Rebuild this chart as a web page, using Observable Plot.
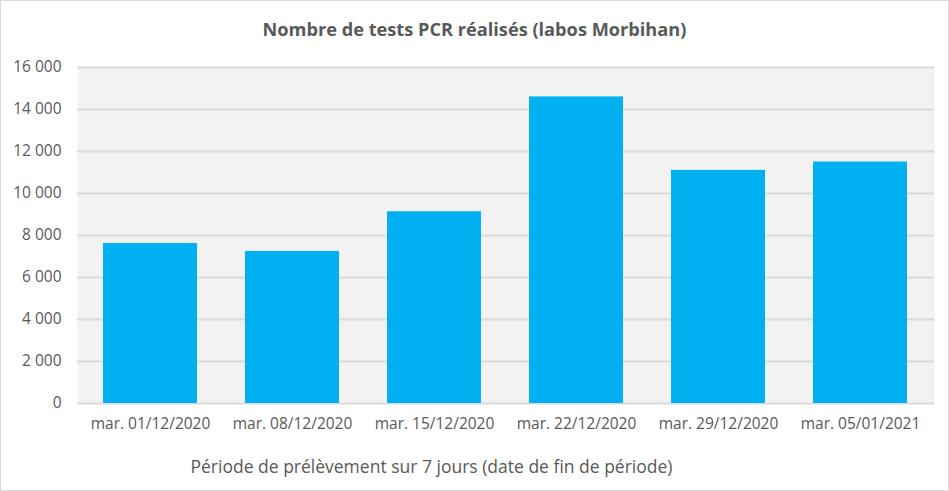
<!DOCTYPE html>
<html>
<head>
<meta charset="utf-8">
<script src="https://cdn.jsdelivr.net/npm/d3@7"></script>
<script src="https://cdn.jsdelivr.net/npm/@observablehq/plot@0.6"></script>
<style>
  html, body { margin: 0; padding: 0; background: #fff; }
  #wrap { position: relative; width: 949px; height: 491px; box-sizing: border-box; border: 1px solid #d9d9d9; background: #fff; font-family: "Open Sans", "Noto Sans", sans-serif; overflow: hidden; }
  #title { position: absolute; left: -1px; width: 949px; top: 16px; text-align: center; font-size: 18.2px; font-weight: bold; color: #595959; }
  #chart { position: absolute; left: -1px; top: 49px; width: 949px; height: 400px; }
  #chart svg { max-width: none; }
  #xlabel { position: absolute; left: -1px; width: 863px; top: 453px; text-align: center; font-size: 17.5px; color: #595959; }
</style>
</head>
<body>
<div id="wrap">
  <div id="title">Nombre de tests PCR réalisés (labos Morbihan)</div>
  <div id="chart"></div>
  <div id="xlabel">Période de prélèvement sur 7 jours (date de fin de période)</div>
</div>
<script>
const categories = ["mar. 01/12/2020", "mar. 08/12/2020", "mar. 15/12/2020", "mar. 22/12/2020", "mar. 29/12/2020", "mar. 05/01/2021"];
const tests = [7620, 7240, 9130, 14600, 11100, 11500];
const yTicks = [0, 2000, 4000, 6000, 8000, 10000, 12000, 14000, 16000];

const data = categories.map((c, i) => ({category: c, value: tests[i]}));
const fmt = d => d3.format(",")(d).replace(/,/g, " ");

const chart = Plot.plot({
  width: 949,
  height: 400,
  marginLeft: 77,
  marginRight: 15,
  marginTop: 17,
  marginBottom: 47,
  style: { fontFamily: "'Open Sans', 'Noto Sans', sans-serif", fontSize: "15.5px", color: "#595959", background: "transparent", maxWidth: "none" },
  x: { domain: categories, paddingInner: 0.335, paddingOuter: 0.1675, align: 0.5, label: null, tickSize: 0, tickPadding: 15 },
  y: { domain: [0, 16000], ticks: yTicks, tickFormat: fmt, label: null, tickSize: 0, tickPadding: 16 },
  marks: [
    Plot.frame({ fill: "#f2f2f2", stroke: null }),
    Plot.gridY(yTicks, { stroke: "#d9d9d9", strokeWidth: 2, strokeOpacity: 1 }),
    Plot.barY(data, { x: "category", y: "value", fill: "#00b0f0" }),
    Plot.axisX({ tickSize: 0, tickPadding: 14, fill: "#595959", fontSize: 15.5 }),
    Plot.axisY({ ticks: yTicks, tickFormat: fmt, tickSize: 0, tickPadding: 16, fill: "#595959", fontSize: 15.5 })
  ]
});
document.getElementById("chart").appendChild(chart);
</script>
</body>
</html>
